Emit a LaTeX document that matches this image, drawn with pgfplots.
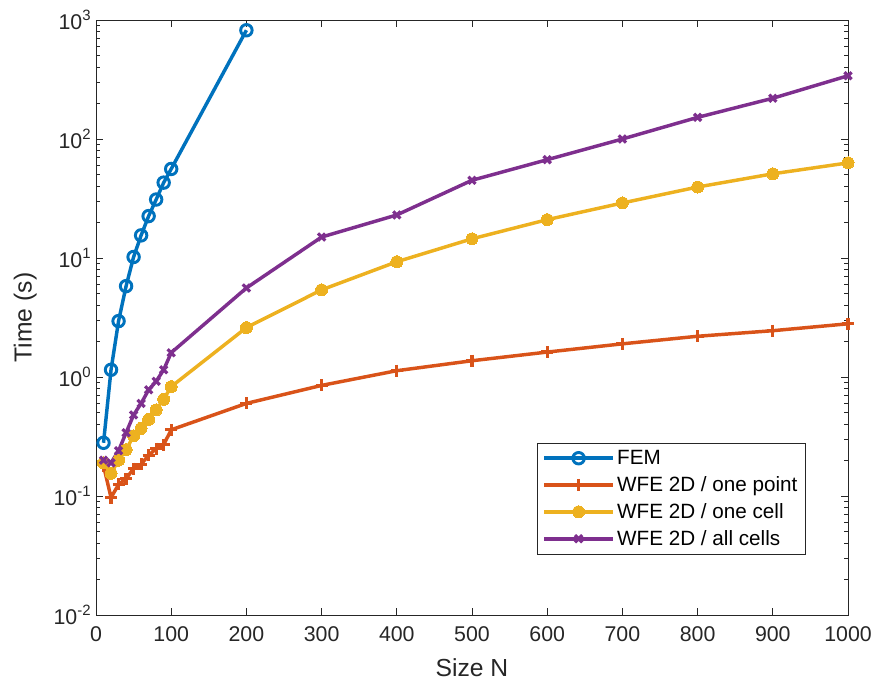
\documentclass[border=0pt]{standalone}
\usepackage{fontspec}
\setmainfont{Liberation Sans}
\usepackage{pgfplots}
\pgfplotsset{compat=1.18}
\definecolor{mblue}{rgb}{0,0.447,0.741}
\definecolor{morange}{rgb}{0.85,0.325,0.098}
\definecolor{myellow}{rgb}{0.929,0.694,0.125}
\definecolor{mpurple}{rgb}{0.494,0.184,0.556}
\definecolor{axgray}{rgb}{0.15,0.15,0.15}
\begin{document}
\begin{tikzpicture}
\useasboundingbox (-72pt,-53.25pt) rectangle (583.5pt,461.25pt);
\begin{axis}[
  scale only axis,
  width=564pt, height=446.25pt,
  at={(0,0)}, anchor=south west,
  xmin=0, xmax=1000, ymin=0.01, ymax=1000,
  ymode=log,
  xtick={0,100,...,1000},
  ytick={0.01,0.1,1,10,100,1000},
  yticklabels={10\textsuperscript{-2},10\textsuperscript{-1},10\textsuperscript{0},10\textsuperscript{1},10\textsuperscript{2},10\textsuperscript{3}},
  /pgf/number format/assume math mode=true,
  /pgf/number format/set thousands separator={},
  tick align=inside,
  major tick length=5.5pt,
  minor tick length=3pt,
  axis line style={axgray, line width=0.6pt},
  every tick/.style={axgray, line width=0.6pt},
  tick label style={font=\fontsize{16}{19}\selectfont, text=axgray},
  xticklabel style={yshift=-5pt},
  xlabel={Size N},
  ylabel={Time (s)},
  label style={font=\fontsize{18.5}{22}\selectfont, text=axgray},
  xlabel style={at={(axis description cs:0.5,-0.089)}, anchor=center},
  ylabel style={at={(axis description cs:-0.094,0.5)}, anchor=center, rotate=0},
  legend cell align=left,
  legend style={at={(axis description cs:0.944,0.289)}, anchor=north east,
    font=\fontsize{15.5}{18}\selectfont, draw=axgray, line width=0.6pt,
    row sep=3.5pt, inner xsep=4pt, inner ysep=3pt},
  legend image code/.code={\draw[mark repeat=2,mark phase=2,#1] plot coordinates {(0cm,0cm) (0.9cm,0cm) (1.8cm,0cm)};},
]
\addplot[mblue, line width=2.6pt, mark=o, mark size=4.3pt, mark options={line width=2.2pt}] coordinates {
(10,0.28)(20,1.15)(30,2.95)(40,5.8)(50,10.2)(60,15.5)(70,22.5)(80,31)(90,43)(100,56)(200,820)};
\addlegendentry{FEM}
\addplot[morange, line width=2.6pt, mark=+, mark size=4.5pt, mark options={line width=2.4pt}] coordinates {
(10,0.18)(20,0.097)(30,0.125)(40,0.14)(50,0.17)(60,0.185)(70,0.22)(80,0.25)(90,0.27)(100,0.36)(200,0.6)(300,0.85)(400,1.13)(500,1.37)(600,1.62)(700,1.9)(800,2.2)(900,2.45)(1000,2.8)};
\addlegendentry{WFE 2D / one point}
\addplot[myellow, line width=2.6pt, mark=*, mark size=4.5pt, mark options={line width=0pt, fill=myellow, draw=myellow}] coordinates {
(10,0.19)(20,0.155)(30,0.2)(40,0.245)(50,0.32)(60,0.37)(70,0.44)(80,0.53)(90,0.65)(100,0.83)(200,2.6)(300,5.4)(400,9.3)(500,14.5)(600,21)(700,29)(800,39.5)(900,51)(1000,63)};
\addlegendentry{WFE 2D / one cell}
\addplot[mpurple, line width=2.6pt, mark=x, mark size=3.8pt, mark options={line width=2.4pt}] coordinates {
(10,0.2)(20,0.19)(30,0.24)(40,0.34)(50,0.48)(60,0.6)(70,0.78)(80,0.92)(90,1.15)(100,1.6)(200,5.6)(300,15)(400,23)(500,45)(600,67)(700,100)(800,152)(900,220)(1000,340)};
\addlegendentry{WFE 2D / all cells}
\end{axis}
\end{tikzpicture}
\end{document}
